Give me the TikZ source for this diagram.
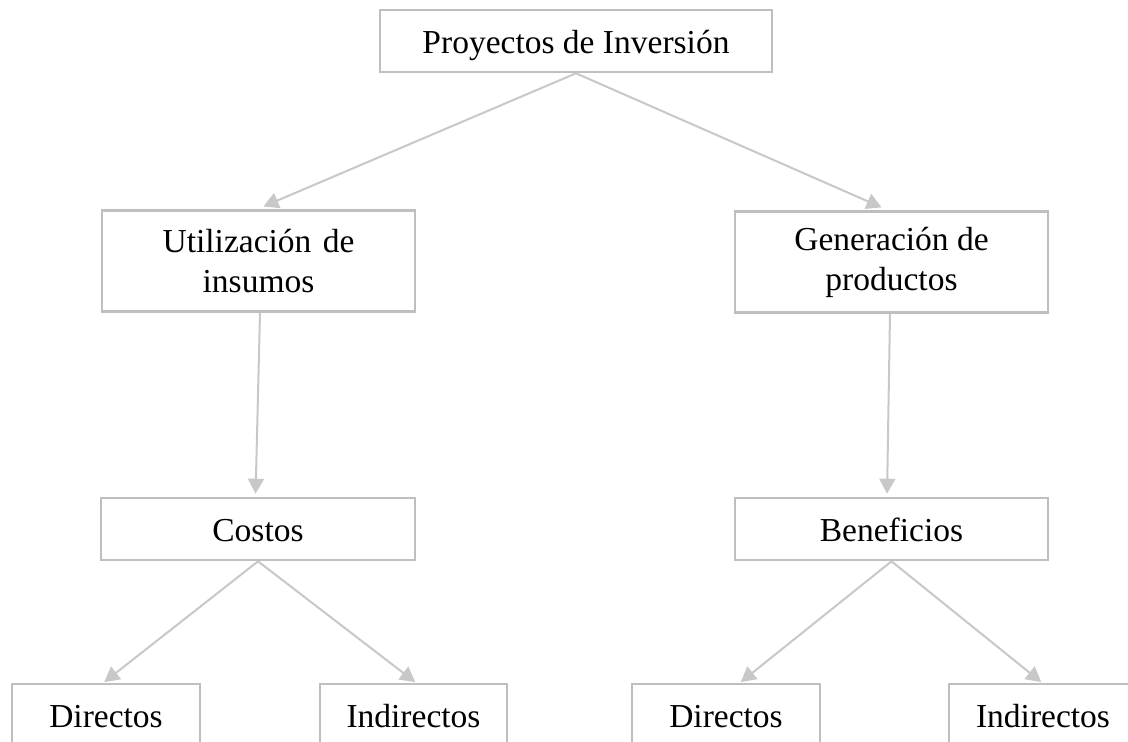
\documentclass[tikz,border=0pt]{standalone}
\usepackage{fontspec}
\setmainfont{Liberation Serif}
\usetikzlibrary{arrows.meta}
\definecolor{boxgray}{HTML}{BFBFBF}
\definecolor{linegray}{HTML}{C8C8C8}
\begin{document}
\begin{tikzpicture}[x=1pt,y=-1pt,
  box/.style={draw=boxgray,line width=2.6pt,fill=white,inner sep=0pt,align=center,
    font=\fontsize{33.5}{40}\selectfont,text=black},
  onebox/.style={box,minimum height=62pt,text height=26pt,text depth=2pt},
  conn/.style={draw=linegray,line width=2pt,-{Triangle[length=15pt,width=16pt]}}]
\useasboundingbox (0,0) rectangle (1128,742);
\clip (0,0) rectangle (1128,742);
\fill[white] (0,0) rectangle (1128,742);
\node[onebox,minimum width=392pt] (top) at (576,41) {Proyectos de Inversión};
\node[box,minimum width=313pt,minimum height=101pt] (util) at (258.5,261) {Utilización\hspace{3pt} de\\insumos};
\node[box,minimum width=313pt,minimum height=101pt] (gen) at (891.5,262) {Generación de\\productos};
\node[onebox,minimum width=314pt] (cost) at (258,529) {Costos};
\node[onebox,minimum width=313pt] (ben) at (891.5,529) {Beneficios};
\node[onebox,minimum width=188pt] (d1) at (106,715) {Directos};
\node[onebox,minimum width=187pt] (i1) at (413.5,715) {Indirectos};
\node[onebox,minimum width=188pt] (d2) at (726,715) {Directos};
\node[onebox,minimum width=188pt] (i2) at (1043,715) {Indirectos};
\draw[conn,shorten >=7pt] (top.south) -- ([xshift=-1.5pt]util.north);
\draw[conn,shorten >=7pt] (top.south) -- ([xshift=-3.5pt]gen.north);
\draw[conn,shorten >=3pt] ([xshift=1.5pt]util.south) -- ([xshift=-2.5pt]cost.north);
\draw[conn,shorten >=3pt] ([xshift=-1.5pt]gen.south) -- ([xshift=-4.5pt]ben.north);
\draw[conn,shorten >=1pt] (cost.south) -- ([xshift=-2.5pt]d1.north);
\draw[conn,shorten >=1pt] (cost.south) -- ([xshift=2.5pt]i1.north);
\draw[conn,shorten >=1pt] (ben.south) -- ([xshift=14pt]d2.north);
\draw[conn,shorten >=1pt] (ben.south) -- ([xshift=-1pt]i2.north);
\end{tikzpicture}
\end{document}
